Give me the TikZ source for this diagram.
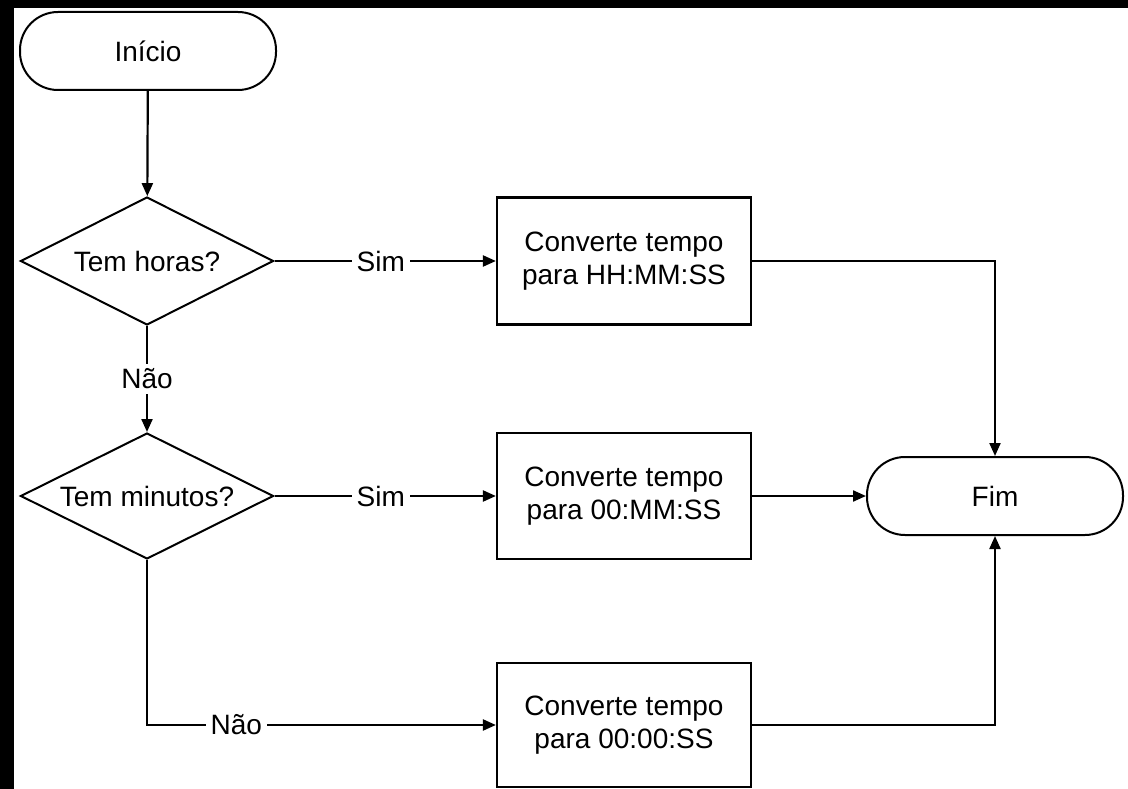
\documentclass[tikz,border=0pt]{standalone}
\usepackage{fontspec}
\setmainfont{Liberation Sans}
\usetikzlibrary{shapes.geometric,arrows.meta}
\begin{document}
\begin{tikzpicture}[x=1pt,y=-1pt,
  every node/.style={font=\fontsize{28}{33}\selectfont},
  term/.style={draw, line width=2pt, rounded corners=38pt, minimum width=256pt, minimum height=78pt, inner sep=0pt},
  decision/.style={draw, diamond, line width=2pt, minimum width=253pt, minimum height=128pt, inner sep=0pt},
  procbox/.style={draw, line width=2.2pt, minimum width=254pt, minimum height=127pt, inner sep=0pt, align=center},
  conn/.style={line width=2.2pt},
  arr/.style={conn, -{Triangle[length=13pt,width=11pt]}},
  lbl/.style={fill=white, inner sep=5pt}
]
\fill[black] (0,0) rectangle (1128,789);
\fill[white] (14,8) rectangle (1128,789);
\useasboundingbox (0,0) rectangle (1128,789);

\node[term] (ini) at (148,51) {Início};
\node[decision, label=center:{Tem horas?}] (d1) at (147,261) {};
\node[procbox] (b1) at (624,261) {Converte tempo\\para HH:MM:SS};
\node[decision, minimum height=126pt, label=center:{Tem minutos?}] (d2) at (147,496) {};
\node[procbox, minimum height=126pt] (b2) at (624,496) {Converte tempo\\para 00:MM:SS};
\node[term] (fim) at (995,496) {Fim};
\node[procbox, minimum height=124pt] (b3) at (624,725) {Converte tempo\\para 00:00:SS};

\draw[arr] (ini) -- (d1);
\draw[arr] (d1.east) -- node[lbl, pos=0.48] {Sim} (b1.west);
\draw[arr] (d1.south) -- node[lbl] {Não} (d2.north);
\draw[arr] (b1.east) -| (fim.north);
\draw[arr] (d2.east) -- node[lbl, pos=0.48] {Sim} (b2.west);
\draw[arr] (b2.east) -- (fim.west);
\draw[arr] (d2.south) |- node[lbl, pos=0.628] {Não} (b3.west);
\draw[arr] (b3.east) -| (fim.south);
\end{tikzpicture}
\end{document}
